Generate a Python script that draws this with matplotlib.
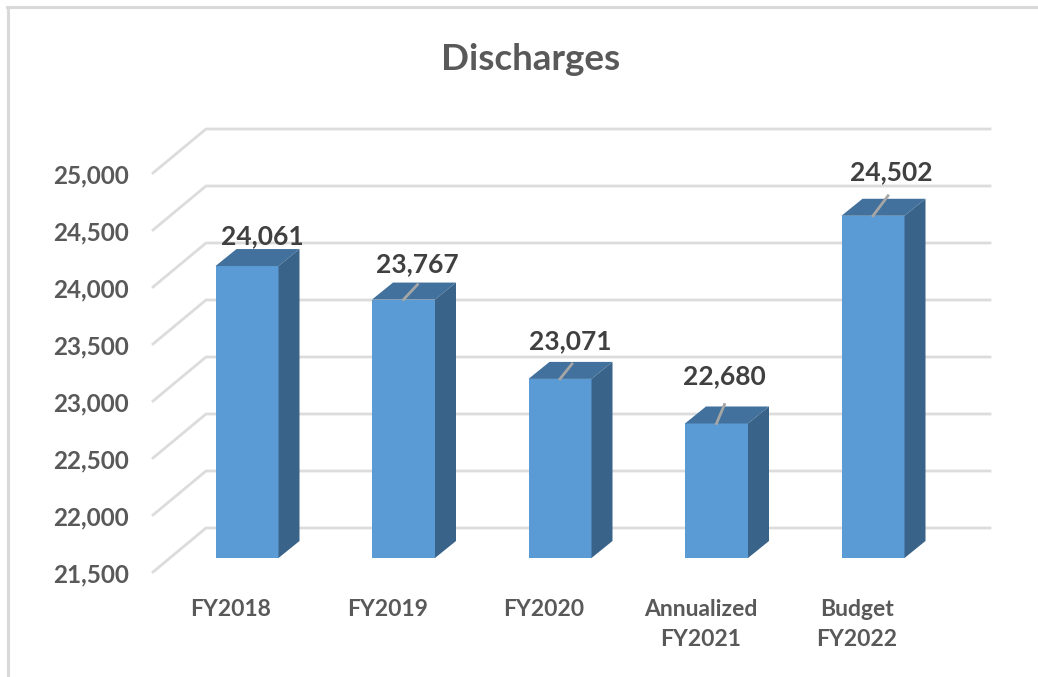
import matplotlib
matplotlib.use("Agg")
import matplotlib.pyplot as plt

categories = ["FY2018", "FY2019", "FY2020", "Annualized\nFY2021", "Budget\nFY2022"]
discharges = [24061, 23767, 23071, 22680, 24502]
ticks = [21500, 22000, 22500, 23000, 23500, 24000, 24500, 25000]

W, H = 1038, 677
plt.rcParams['font.family'] = ['Lato', 'DejaVu Sans']

# one category = 156.5 px, one discharge = 0.114 px
px_x = 1 / 156.5
px_y = 1 / 0.114
base = 21500
x0_px, y0_px = 247, 558

fig = plt.figure(figsize=(W / 100, H / 100), dpi=100)
ax = fig.add_axes([0, 0, 1, 1])
ax.set_xlim(-x0_px * px_x, (W - x0_px) * px_x)
ax.set_ylim(base - (H - y0_px) * px_y, base + y0_px * px_y)
ax.axis("off")

# chart frame
ax.plot([8 * px_x - x0_px * px_x] * 2, [base - (H - y0_px) * px_y, base + (y0_px - 7) * px_y],
        color="#d9d9d9", lw=2.2)
ax.plot([7 * px_x - x0_px * px_x, (W - x0_px) * px_x], [base + (y0_px - 7) * px_y] * 2,
        color="#d9d9d9", lw=2.2)

# floor and gridlines, front edge is 14 px under the bars, back edge 30 px above
left_x = (153 - x0_px) * px_x
back_x = (206 - x0_px) * px_x
right_x = (990 - x0_px) * px_x
for t in ticks:
    front_y = t - 14 * px_y
    back_y = t + 30 * px_y
    ax.plot([left_x, back_x, right_x], [front_y, back_y, back_y], color="#dcdcdc", lw=2,
            solid_joinstyle="miter", zorder=1)
    ax.text((129 - x0_px) * px_x, front_y - 2.5 * px_y, f"{t:,}", ha="right", va="center",
            fontsize=17.5, fontweight="bold", color="#595959")

# 3d bars
dx = 21 * px_x
dy = 17 * px_y
half = 31.5 * px_x
for i, v in enumerate(discharges):
    ax.bar(i, v - base, bottom=base, width=2 * half, color="#5b9bd5", zorder=3)
    ax.fill([i - half, i + half, i + half + dx, i - half + dx],
            [v, v, v + dy, v + dy], color="#41719c", lw=0, zorder=3)
    ax.fill([i + half, i + half + dx, i + half + dx, i + half],
            [base, base + dy, v + dy, v], color="#3a6389", lw=0, zorder=3)

# labels with their leader lines
label_dx = [15, 14, 10, 8, 18]
label_dy = [30, 35, 38, 47, 44]
line_dx = [0, 14, 12, 8, 15]
line_dy = [0, 15, 15, 19, 20]
for i, v in enumerate(discharges):
    if line_dx[i] > 0:
        ax.plot([i, i + line_dx[i] * px_x], [v, v + line_dy[i] * px_y], color="#a6a6a6",
                lw=2, zorder=4)
    ax.text(i + label_dx[i] * px_x, v + label_dy[i] * px_y, f"{v:,}", ha="center", va="center",
            fontsize=19, fontweight="bold", color="#404040", zorder=5)

for i, c in enumerate(categories):
    ax.text(i - 16 * px_x, base - 41 * px_y, c, ha="center", va="top", fontsize=16.5,
            fontweight="bold", color="#595959", linespacing=1.55)

ax.text((531 - x0_px) * px_x, base + (y0_px - 60) * px_y, "Discharges", ha="center", va="center",
        fontsize=26.5, fontweight="bold", color="#595959")

fig.savefig("out.png", dpi=100)
